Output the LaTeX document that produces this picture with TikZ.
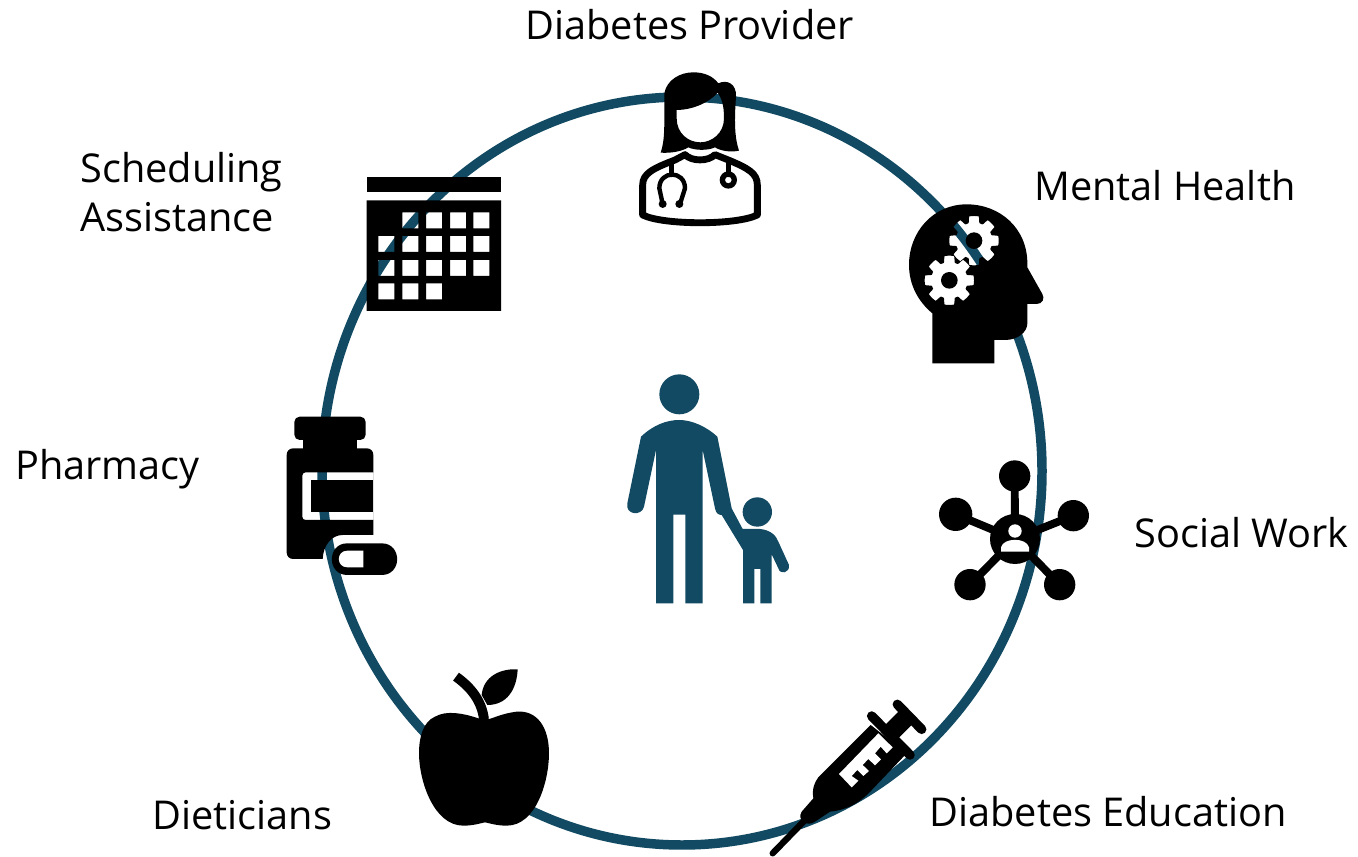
\documentclass[tikz,border=0pt]{standalone}
\usepackage{fontspec}
\setmainfont{Open Sans}
\definecolor{ringblue}{RGB}{17,74,98}
\tikzset{
  zoomed/.style={x=0.006667cm,y=-0.006667cm},
  caption/.style={anchor=base west,inner sep=0pt,font=\fontsize{22.6}{28.3}\selectfont},
  icon/.style={fill=black},
  tube/.style={draw=black,line cap=round,line width=2.5pt}
}
\newcommand{\gearshape}[2]{plot [domain=0:360,samples=161,variable=\t] ({#1+74*(0.87+0.13*max(-1,min(1,3*cos(8*\t)+1.1)))*cos(\t)},{#2+74*(0.87+0.13*max(-1,min(1,3*cos(8*\t)+1.1)))*sin(\t)}) -- cycle (#1,#2) circle (25)}

\begin{document}
\begin{tikzpicture}[x=0.02cm,y=-0.02cm]
\useasboundingbox (0,0) rectangle (1358,857);
\draw [ringblue,line width=5.4pt] (682,471) ellipse (360 and 374);

\node (provider) [caption] at (525,40) {Diabetes Provider};
\node (scheduling) [caption,anchor=west,align=left] at (80,192) {Scheduling\\Assistance};
\node (mental) [caption] at (1034,201) {Mental Health};
\node (pharmacy) [caption] at (15,480) {Pharmacy};
\node (social) [caption] at (1134,547) {Social Work};
\node (education) [caption] at (929,826) {Diabetes Education};
\node (dieticians) [caption] at (152,829) {Dieticians};

\begin{scope}[shift={(610,365)},zoomed]
\fill [ringblue] (208,88) circle (60);
\fill [ringblue] (442,441) circle (44);
\fill [ringblue] (93,215) .. controls (130,180) and (170,165) .. (208,165)
  .. controls (245,165) and (290,185) .. (322,215) -- (365,430) -- (398,492) -- (450,492)
  .. controls (480,495) and (498,510) .. (505,530) -- (537,600)
  .. controls (540,625) and (510,630) .. (505,610) -- (485,568) -- (485,715) -- (451,715)
  -- (451,612) -- (433,612) -- (433,715) -- (399,715) -- (399,555) -- (335,450)
  .. controls (325,450) and (318,445) .. (315,430) -- (278,255) -- (278,715) -- (226,715)
  -- (226,449) -- (190,449) -- (190,715) -- (138,715) -- (138,255) -- (102,425)
  .. controls (95,455) and (45,450) .. (52,415) -- cycle;
\end{scope}

\begin{scope}[shift={(620,60)},zoomed]
\fill [icon,even odd rule] (122,278) .. controls (135,240) and (133,200) .. (133,100)
  .. controls (140,60) and (180,37) .. (220,37) .. controls (255,37) and (280,50) .. (295,70)
  .. controls (320,58) and (350,70) .. (348,110) .. controls (343,180) and (343,230) .. (357,272)
  .. controls (330,278) and (300,272) .. (285,262) .. controls (265,272) and (225,272) .. (205,262)
  .. controls (185,275) and (150,280) .. (122,278) -- cycle
  (170,150) .. controls (215,150) and (265,130) .. (293,98) .. controls (305,115) and (312,135) .. (312,175)
  .. controls (312,220) and (275,247) .. (241,247) .. controls (205,247) and (170,220) .. (170,175) -- cycle;
\draw [line width=3.9pt,line join=round] (68,465) -- (68,375) .. controls (68,340) and (100,325) .. (165,300)
  -- (195,284) .. controls (215,305) and (265,305) .. (285,284) -- (325,300)
  .. controls (385,325) and (412,340) .. (412,375) -- (412,465)
  .. controls (350,496) and (130,496) .. (68,465) -- cycle;
\draw [tube] (155,305) -- (155,345);
\draw [tube] (128,432) -- (118,385) .. controls (118,330) and (195,330) .. (195,385) -- (180,432);
\fill [icon] (128,432) circle (12) (178,432) circle (12);
\draw [tube] (325,305) -- (325,345);
\fill [icon,even odd rule] (325,360) circle (26) (325,360) circle (10);
\end{scope}

\begin{scope}[shift={(890,190)},zoomed]
\fill [icon,even odd rule] (127,520) -- (313,520) -- (313,450) -- (345,450)
  .. controls (385,450) and (412,425) .. (412,400) -- (412,342) -- (440,342)
  .. controls (458,342) and (465,325) .. (457,312) -- (412,232) -- (412,220)
  .. controls (412,115) and (330,43) .. (230,43) .. controls (130,43) and (57,125) .. (57,225)
  .. controls (57,285) and (85,335) .. (127,370) -- cycle
  \gearshape{178}{271} \gearshape{252}{152};
\end{scope}

\begin{scope}[shift={(920,450)},zoomed]
\draw [line width=4.5pt] (285,267) -- (284,78) (285,267) -- (107,193) (285,267) -- (460,197)
  (285,267) -- (150,404) (285,267) -- (419,404);
\fill [icon] (285,267) circle (75) (284,78) circle (47) (107,193) circle (50)
  (460,197) circle (47) (150,404) circle (47) (419,404) circle (47);
\fill [white] (285,243) circle (20);
\fill [white] (243,305) -- (243,292) .. controls (250,262) and (320,262) .. (327,292) -- (327,305) -- cycle;
\end{scope}

\begin{scope}[shift={(750,690)},zoomed]
\draw [line width=3.6pt,line cap=round] (68,490) -- (170,385);
\fill [icon] (205,262) -- (362,105) -- (470,190) -- (370,295)
  .. controls (330,340) and (290,360) .. (240,365) -- (195,395)
  .. controls (170,412) and (140,390) .. (155,365) -- (190,325)
  .. controls (185,295) and (195,275) .. (205,262) -- cycle;
\draw [line width=5.4pt,line cap=round] (365,78) -- (480,195);
\draw [line width=5.4pt,line cap=round] (442,43) -- (515,118);
\fill [icon] (395,115) -- (450,60) -- (490,100) -- (435,155) -- cycle;
\fill [white] (267,252) -- (385,130) -- (428,172) -- (410,190) -- (392,170) -- (375,190)
  -- (393,208) -- (375,226) -- (355,207) -- (338,225) -- (357,243) -- (340,258) -- (322,240)
  -- (305,258) -- (325,272) -- (305,292) -- cycle;
\end{scope}

\begin{scope}[shift={(400,660)},zoomed]
\fill [icon] (235,175) .. controls (190,160) and (140,150) .. (105,170)
  .. controls (70,185) and (57,230) .. (57,280) .. controls (57,360) and (100,497) .. (190,497)
  .. controls (220,497) and (240,490) .. (255,487) .. controls (270,490) and (290,497) .. (320,497)
  .. controls (410,497) and (447,360) .. (447,280) .. controls (447,200) and (410,150) .. (350,155)
  .. controls (310,160) and (285,172) .. (268,177) -- cycle;
\draw [line width=5.6pt] (252,178) .. controls (245,120) and (210,80) .. (168,50);
\fill [icon] (245,105) .. controls (250,50) and (300,25) .. (353,28)
  .. controls (350,90) and (320,135) .. (262,135) -- cycle;
\end{scope}

\begin{scope}[shift={(270,405)},zoomed]
\fill [icon,rounded corners=3pt] (73,35) rectangle (287,105);
\fill [icon] (98,100) rectangle (262,135);
\fill [icon,even odd rule] (70,130) -- (290,130) .. controls (302,130) and (310,138) .. (310,150)
  -- (310,390) -- (218,390) .. controls (185,390) and (160,420) .. (158,462) -- (70,462)
  .. controls (58,462) and (50,454) .. (50,442) -- (50,150) .. controls (50,138) and (58,130) .. (70,130) -- cycle
  (107,202) -- (310,202) -- (310,345) -- (107,345) .. controls (101,345) and (97,341) .. (97,335)
  -- (97,212) .. controls (97,206) and (101,202) .. (107,202) -- cycle;
\fill [icon] (122,226) rectangle (310,320);
\fill [icon] (232,415) -- (335,415) .. controls (397,415) and (397,510) .. (335,510) -- (232,510)
  .. controls (170,510) and (170,415) .. (232,415) -- cycle;
\fill [white] (280,437) -- (280,487) -- (232,487) .. controls (198,487) and (198,437) .. (232,437) -- cycle;
\end{scope}

\begin{scope}[shift={(350,165)},zoomed]
\fill [icon] (50,35) rectangle (453,82);
\fill [icon,even odd rule] (50,106) rectangle (453,438)
  foreach \cx/\cy in {157/142,228/142,300/142,370/142,
    85/213,157/213,228/213,300/213,370/213,
    85/285,157/285,228/285,300/285,370/285,
    85/355,157/355,228/355} {(\cx,\cy) rectangle ++(48,48)};
\end{scope}
\end{tikzpicture}
\end{document}
